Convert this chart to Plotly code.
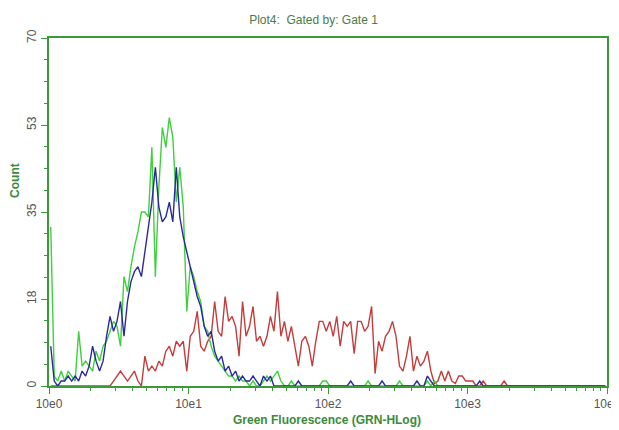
import numpy as np
import plotly.graph_objects as go

# channel grid: 0.025 decade per channel, 160 channels over 10^0..10^4
decade_step = 0.025
n_channels = 160

# counts per channel (index = channel number)
green_counts = [32, 2, 1, 3, 1, 3, 2, 1, 11, 4, 5, 4, 3, 7, 5, 8, 9, 11, 13, 12,
                8, 22, 19, 24, 28, 31, 35, 35, 34, 48, 22, 40, 52, 48, 54, 50, 37, 44, 36, 15,
                24, 22, 19, 17, 12, 11, 8, 6, 5, 4, 3, 2, 2, 1, 2, 1, 1, 0, 1, 0,
                0, 1, 2, 1, 2, 3, 1, 0, 0, 1, 0, 0, 0, 0, 0, 0, 0, 0, 1, 1,
                0, 0, 0, 0, 0, 0, 0, 0, 0, 0, 0, 1, 0, 0, 0, 0, 0, 0, 0, 0,
                1, 0, 0, 0, 0, 0, 0, 0, 1, 0, 1, 0, 0, 0, 0, 0, 0, 0, 0, 0]
blue_counts = [8, 1, 0, 1, 1, 2, 1, 2, 1, 3, 2, 4, 8, 5, 3, 5, 10, 14, 11, 13,
               17, 10, 17, 21, 23, 24, 22, 27, 32, 37, 44, 36, 33, 34, 37, 33, 44, 34, 30, 27,
               24, 21, 18, 16, 12, 10, 11, 7, 5, 6, 3, 4, 2, 3, 1, 2, 1, 1, 2, 1,
               0, 2, 1, 2, 0, 0, 0, 0, 0, 0, 0, 1, 0, 0, 0, 0, 0, 0, 0, 0,
               0, 0, 0, 0, 0, 0, 1, 0, 0, 0, 0, 0, 0, 0, 0, 1, 0, 0, 0, 0,
               0, 0, 0, 0, 0, 1, 0, 0, 2, 1, 0, 0, 0, 0, 0, 0, 0, 0, 0, 0,
               0, 0, 0, 1]
red_counts = [0, 0, 0, 0, 0, 0, 0, 0, 0, 0, 0, 0, 0, 0, 0, 0, 0, 0, 1, 2,
              3, 2, 1, 2, 3, 1, 0, 6, 3, 4, 3, 5, 4, 7, 8, 6, 9, 8, 9, 3,
              10, 11, 15, 8, 7, 9, 10, 17, 11, 10, 18, 13, 14, 12, 6, 17, 10, 12, 16, 9,
              10, 8, 10, 14, 11, 19, 10, 13, 9, 12, 8, 4, 9, 10, 8, 4, 9, 13, 13, 11,
              13, 10, 14, 8, 13, 12, 13, 6.5, 13, 13, 11, 12, 16, 2.5, 9, 7, 10, 11, 13, 10,
              4, 3, 6, 10, 3, 6, 4, 5, 7, 3, 0.5, 1, 3, 1, 3, 1, 0.5, 2, 2, 1,
              1, 1, 0, 0, 1, 0, 0, 0, 0, 0, 1]

x_tick_vals = [1, 10, 100, 1000, 10000]
x_tick_text = ["10e0", "10e1", "10e2", "10e3", "10e4"]
y_tick_vals = [0, 17.5, 35, 52.5, 70]
y_tick_text = ["0", "18", "35", "53", "70"]

title_text = "Plot4:  Gated by: Gate 1"
x_title = "Green Fluorescence (GRN-HLog)"
y_title = "Count"


def channel_series(counts):
    c = list(counts) + [0] * (n_channels - len(counts))
    centers = 10 ** ((np.arange(n_channels) + 0.5) * decade_step)
    return centers, c


axis_green = "#3a9a3a"
fig = go.Figure()
for counts, color in [(red_counts, "#c43c3c"), (green_counts, "#3fcf3f"), (blue_counts, "#2a2a9e")]:
    xs, ys = channel_series(counts)
    fig.add_trace(go.Scatter(x=xs, y=ys, mode="lines", line=dict(color=color, width=1.4),
                             showlegend=False, hoverinfo="skip"))

minor_x = [m * 10 ** k for k in range(4) for m in range(2, 10)]

# the page adds an 8px body margin, so the figure is 8px smaller than the window
fig.update_layout(
    width=611, height=422,
    margin=dict(l=41, r=12, t=30, b=44, autoexpand=False),
    paper_bgcolor="white", plot_bgcolor="white",
    font=dict(family="Liberation Sans, Arial, sans-serif", color="#555555", size=12),
    title=dict(text=title_text, x=0.5, xanchor="center", y=1 - 12 / 422, yanchor="middle",
               font=dict(size=12, color="#4a7a4a")),
    xaxis=dict(type="log", range=[0, 4], tickmode="array", tickvals=x_tick_vals, ticktext=x_tick_text,
               automargin=False, ticklabeloverflow="allow",
               showgrid=False, zeroline=False, showline=True, linecolor=axis_green, linewidth=1.5,
               mirror=True, ticks="outside", ticklen=6, tickcolor=axis_green, tickwidth=1,
               ticklabelstandoff=0,
               minor=dict(tickvals=minor_x, ticks="outside", ticklen=3, tickcolor=axis_green, showgrid=False),
               tickfont=dict(size=12, color="#555555")),
    yaxis=dict(range=[0, 70], tickmode="array", tickvals=y_tick_vals, ticktext=y_tick_text,
               automargin=False,
               tickangle=-90, showgrid=False, zeroline=False, showline=True, linecolor=axis_green,
               linewidth=1.5, mirror=True, ticks="outside", ticklen=6, tickcolor=axis_green,
               ticklabelstandoff=0,
               minor=dict(dtick=4.375, tick0=0, ticks="outside", ticklen=3, tickcolor=axis_green, showgrid=False),
               tickfont=dict(size=12, color="#555555")),
    annotations=[
        dict(text="<b>" + x_title + "</b>", xref="paper", yref="paper", x=0.499, y=-0.098,
             xanchor="center", yanchor="middle", showarrow=False,
             font=dict(size=12, color="#3a8a3a")),
        dict(text="<b>" + y_title + "</b>", xref="paper", yref="paper", x=-0.061, y=0.592,
             xanchor="center", yanchor="middle", showarrow=False, textangle=-90,
             font=dict(size=12, color="#3a8a3a")),
    ],
)

fig.write_html("out.html")
